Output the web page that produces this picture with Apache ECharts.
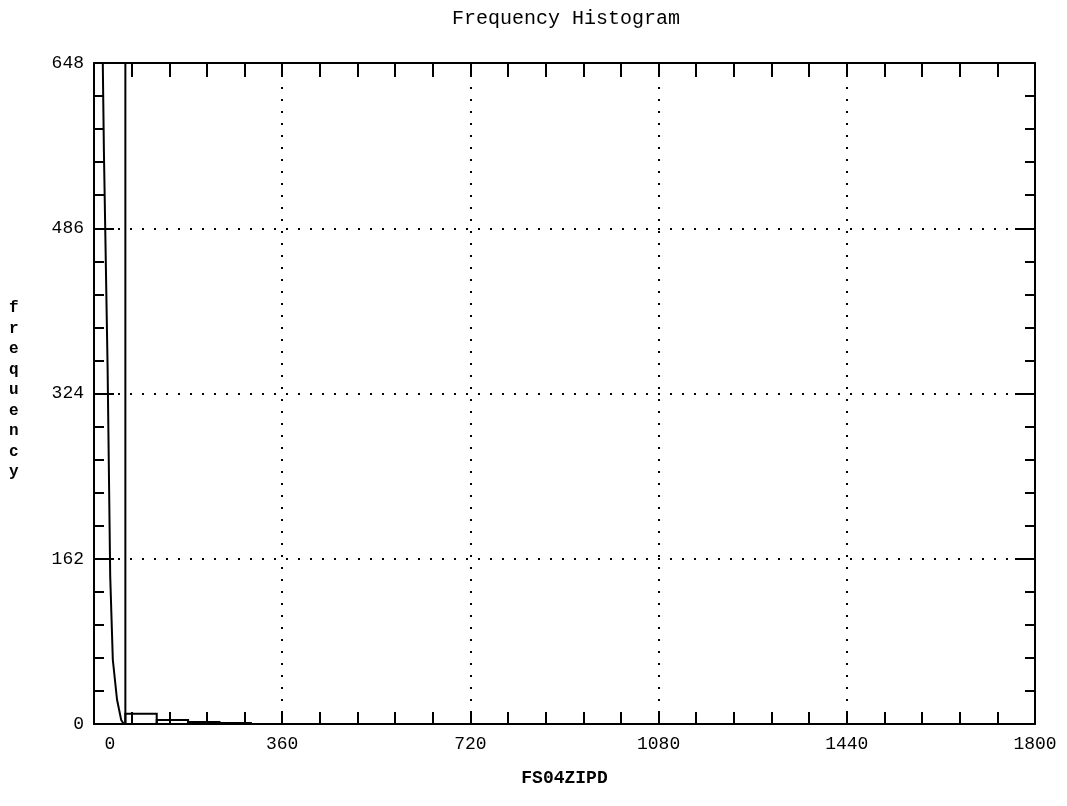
<!DOCTYPE html>
<html>
<head>
<meta charset="utf-8">
<script src="https://cdn.jsdelivr.net/npm/echarts@6/dist/echarts.min.js"></script>
<style>
html,body{margin:0;padding:0;background:#fff;}
#chart{width:1067px;height:806px;}
</style>
</head>
<body>
<div id="chart"></div>
<script>
// ---- data ----
var titleText = 'Frequency Histogram';
var xAxisName = 'FS04ZIPD';
var yAxisName = 'frequency';
var xMin = 0, xMax = 1800, xStep = 360;
var yMin = 0, yMax = 648, yStep = 162;
// histogram bins: [start, end, count]  (first bin runs off the top of the plot)
var binStart = [0, 60, 120, 180, 240];
var binEnd   = [60, 120, 180, 240, 300];
var binCount = [1500, 10, 4, 2, 1];
// fitted curve points: [x, frequency]
var curveX = [15, 17, 19, 21, 26, 31, 36, 44, 52, 57];
var curveY = [760, 640, 560, 500, 350, 145, 63, 24, 4, 0];

var FONT = '"Liberation Mono", "DejaVu Sans Mono", monospace';
var bins = binStart.map(function(s, i){ return [s, binEnd[i], binCount[i]]; });
var curve = curveX.map(function(x, i){ return [x, curveY[i]]; });

var chart = echarts.init(document.getElementById('chart'), null, {renderer:'canvas'});

var dotted = {color:'#000', width:2, type:[2, 10]};
var axLine = {show:true, onZero:false, lineStyle:{color:'#000', width:2}};

chart.setOption({
  backgroundColor:'#fff',
  animation:false,
  title:{
    text:titleText, left:447, top:4,
    textStyle:{fontFamily:FONT, fontSize:20, fontWeight:'normal', color:'#000'}
  },
  graphic:[{
    type:'text', left:9, top:298,
    style:{text:yAxisName.split('').join('\n'), font:'bold 16px ' + FONT, lineHeight:20.5, fill:'#000', textAlign:'left'}
  }],
  grid:{left:94, right:32, top:63, bottom:82, containLabel:false},
  xAxis:[{
    type:'value', min:xMin, max:xMax, interval:xStep, position:'bottom',
    name:xAxisName, nameLocation:'middle', nameGap:45,
    nameTextStyle:{fontFamily:FONT, fontSize:18, fontWeight:'bold', color:'#000'},
    axisLine:axLine,
    axisTick:{show:true, inside:true, length:12, lineStyle:{color:'#000', width:2}},
    minorTick:{show:true, splitNumber:5, length:12, lineStyle:{color:'#000', width:2}},
    axisLabel:{
      fontFamily:FONT, fontSize:18, color:'#000', margin:11,
      formatter:function(v){ return v === 0 ? '{p|0}' : String(v); },
      rich:{p:{fontFamily:FONT, fontSize:18, color:'#000', padding:[0,0,0,32]}}
    },
    splitLine:{show:true, lineStyle:dotted}
  },{
    type:'value', min:xMin, max:xMax, interval:xStep, position:'top',
    axisLine:axLine,
    axisTick:{show:true, inside:true, length:14, lineStyle:{color:'#000', width:2}},
    minorTick:{show:true, splitNumber:5, length:14, lineStyle:{color:'#000', width:2}},
    axisLabel:{show:false}, splitLine:{show:false}
  }],
  yAxis:[{
    type:'value', min:yMin, max:yMax, interval:yStep, position:'left',
    axisLine:axLine,
    axisTick:{show:true, inside:true, length:20, lineStyle:{color:'#000', width:2}},
    minorTick:{show:true, splitNumber:5, length:10, lineStyle:{color:'#000', width:2}},
    axisLabel:{fontFamily:FONT, fontSize:18, color:'#000', margin:10},
    splitLine:{show:true, lineStyle:dotted}
  },{
    type:'value', min:yMin, max:yMax, interval:yStep, position:'right',
    axisLine:axLine,
    axisTick:{show:true, inside:true, length:20, lineStyle:{color:'#000', width:2}},
    minorTick:{show:true, splitNumber:5, length:10, lineStyle:{color:'#000', width:2}},
    axisLabel:{show:false}, splitLine:{show:false}
  }],
  series:[{
    type:'custom', xAxisIndex:0, yAxisIndex:0, clip:true,
    data:bins,
    encode:{x:[0,1], y:2},
    renderItem:function(params, api){
      var p0 = api.coord([api.value(0), 0]);
      var p1 = api.coord([api.value(1), api.value(2)]);
      return {
        type:'rect',
        shape:{x:p0[0], y:p1[1], width:p1[0]-p0[0], height:p0[1]-p1[1]},
        style:{fill:'none', stroke:'#000', lineWidth:2}
      };
    }
  },{
    type:'line', xAxisIndex:0, yAxisIndex:0, clip:true,
    data:curve, showSymbol:false, symbol:'none', smooth:false,
    lineStyle:{color:'#000', width:2}
  }]
});
</script>
</body>
</html>
